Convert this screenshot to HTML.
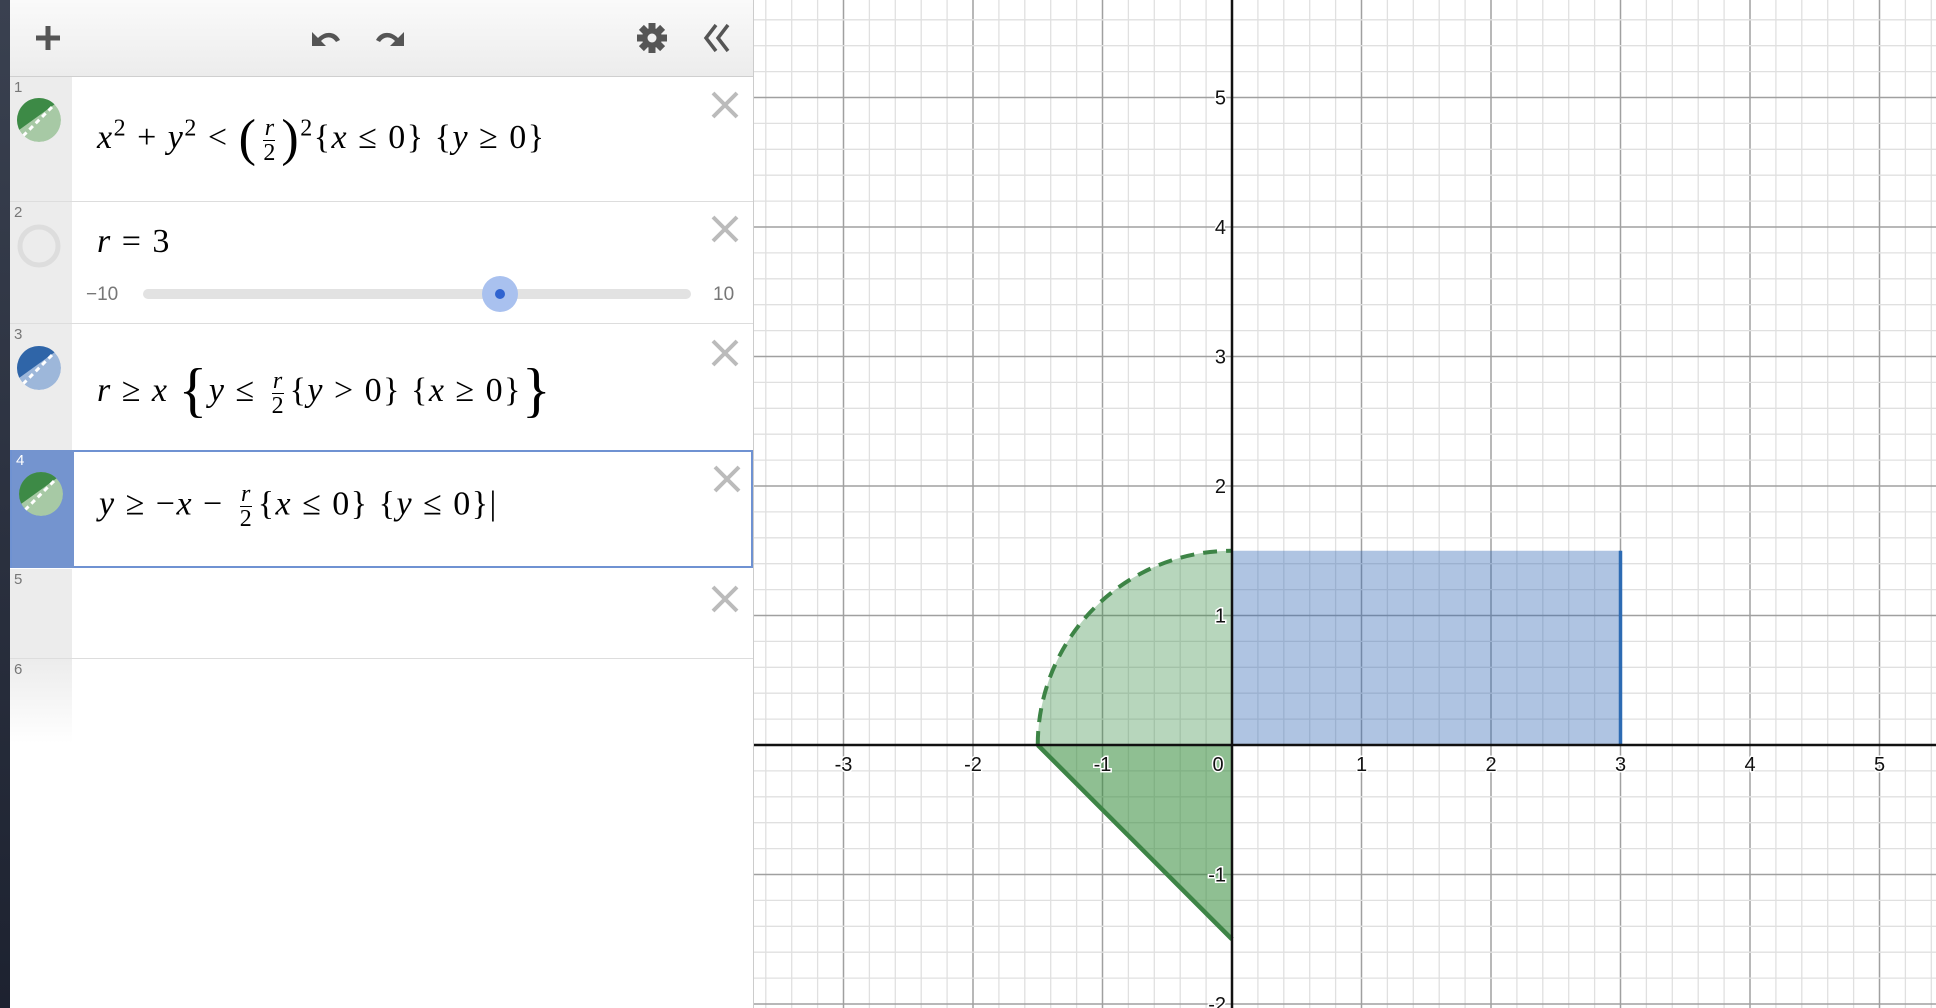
<!DOCTYPE html>
<html><head><meta charset="utf-8">
<style>
html,body{margin:0;padding:0;width:1936px;height:1008px;overflow:hidden;background:#fff;font-family:"Liberation Sans",sans-serif}
#strip{position:absolute;left:0;top:0;width:10px;height:1008px;background:linear-gradient(#3a4150,#1d2230)}
#panel{position:absolute;left:10px;top:0;width:743px;height:1008px;background:#fff;border-right:1px solid #ccc}
#header{position:absolute;left:0;top:0;width:743px;height:76px;background:linear-gradient(#fafafa,#ececec);border-bottom:1px solid #cfcfcf}
.row{position:absolute;left:0;width:743px;border-bottom:1px solid #ddd;background:#fff}
.gut{position:absolute;left:0;top:0;width:62px;height:100%;background:#ececec}
.num{position:absolute;left:4px;top:2px;font-size:15px;color:#777}
.math{position:absolute;left:87px;font-family:"Liberation Serif",serif;font-style:italic;font-size:34px;letter-spacing:1.5px;color:#000;white-space:nowrap}
.math .u{font-style:normal}
.x{position:absolute;left:700px;width:30px;height:30px}
.icon{position:absolute;left:7px;width:44px;height:44px;border-radius:50%}
.frac{display:inline-block;vertical-align:middle;text-align:center;font-size:24px;line-height:24px;margin:0 6px;letter-spacing:0}
.frac span{display:block}
.frac .n{border-bottom:1px solid #000}
</style></head><body>
<div id="strip"></div>
<div id="panel">
  <div id="header">
    <svg style="position:absolute;left:24px;top:24px" width="28" height="28"><path d="M14 2V26M2 14H26" stroke="#555" stroke-width="5"/></svg>
    <svg style="position:absolute;left:296px;top:22px" width="40" height="30"><path d="M6 24 L6 10 L12 16 C20 8 30 10 34 18 L30 20 C26 14 20 14 15 19 L20 24Z" fill="#555"/></svg>
    <svg style="position:absolute;left:360px;top:22px" width="40" height="30"><g transform="translate(40,0) scale(-1,1)"><path d="M6 24 L6 10 L12 16 C20 8 30 10 34 18 L30 20 C26 14 20 14 15 19 L20 24Z" fill="#555"/></g></svg>
    <svg style="position:absolute;left:626px;top:22px" width="32" height="32" viewBox="-16 -16 32 32"><g fill="#555"><circle r="10"/><rect x="-3.5" y="-15" width="7" height="30"/><rect x="-3.5" y="-15" width="7" height="30" transform="rotate(45)"/><rect x="-3.5" y="-15" width="7" height="30" transform="rotate(90)"/><rect x="-3.5" y="-15" width="7" height="30" transform="rotate(135)"/></g><circle r="4.5" fill="#f0f0f0"/></svg>
    <svg style="position:absolute;left:690px;top:22px" width="34" height="32"><path d="M16 3 L6 16 L16 29 M28 3 L18 16 L28 29" fill="none" stroke="#555" stroke-width="3.5"/></svg>
  </div>

  <div class="row" style="top:77px;height:124px">
    <div class="gut"><div class="num">1</div>
      <svg class="icon" style="top:21px" viewBox="0 0 44 44"><circle cx="22" cy="22" r="22" fill="#a7c9a5"/><path d="M2 32 A22 22 0 0 1 38 6 Z" fill="#3d8a46"/><path d="M6 38 L38 6" stroke="#fff" stroke-width="3" stroke-dasharray="5 4"/></svg></div>
    <div class="math" style="top:32px">x<sup class="u" style="font-size:24px">2</sup><span class="u"> + </span>y<sup class="u" style="font-size:24px">2</sup><span class="u"> &lt; </span><span class="u" style="font-size:52px;vertical-align:-7px;font-weight:lighter">(</span><span class="frac"><span class="n">r</span><span class="u">2</span></span><span class="u" style="font-size:52px;vertical-align:-7px">)</span><sup class="u" style="font-size:24px">2</sup><span class="u">{</span>x<span class="u"> ≤ 0} {</span>y<span class="u"> ≥ 0}</span></div>
    <svg class="x" style="top:13px"><path d="M3 3L27 27M27 3L3 27" stroke="#bbb" stroke-width="4"/></svg>
  </div>

  <div class="row" style="top:202px;height:121px">
    <div class="gut"><div class="num">2</div>
      <svg class="icon" style="top:22px" viewBox="0 0 44 44"><circle cx="22" cy="22" r="19" fill="none" stroke="#ddd" stroke-width="5"/></svg></div>
    <div class="math" style="top:21px">r<span class="u"> = 3</span></div>
    <div style="position:absolute;left:76px;top:82px;font-size:19px;color:#777">−10</div>
    <div style="position:absolute;left:703px;top:82px;font-size:19px;color:#777">10</div>
    <div style="position:absolute;left:133px;top:87px;width:548px;height:10px;border-radius:5px;background:#e2e2e2"></div>
    <div style="position:absolute;left:472px;top:74px;width:36px;height:36px;border-radius:50%;background:#a9c1ef"><div style="position:absolute;left:13px;top:13px;width:10px;height:10px;border-radius:50%;background:#2f63d0"></div></div>
    <svg class="x" style="top:12px"><path d="M3 3L27 27M27 3L3 27" stroke="#bbb" stroke-width="4"/></svg>
  </div>

  <div class="row" style="top:324px;height:126px">
    <div class="gut"><div class="num">3</div>
      <svg class="icon" style="top:22px" viewBox="0 0 44 44"><circle cx="22" cy="22" r="22" fill="#9db7da"/><path d="M2 32 A22 22 0 0 1 38 6 Z" fill="#2f65a8"/><path d="M6 38 L38 6" stroke="#fff" stroke-width="3" stroke-dasharray="5 4"/></svg></div>
    <div class="math" style="top:32px">r<span class="u"> ≥ </span>x <span class="u" style="font-size:60px;vertical-align:-9px;font-weight:lighter">{</span>y<span class="u"> ≤ </span><span class="frac"><span class="n">r</span><span class="u">2</span></span><span class="u">{</span>y<span class="u"> &gt; 0} {</span>x<span class="u"> ≥ 0}</span><span class="u" style="font-size:60px;vertical-align:-9px;font-weight:lighter">}</span></div>
    <svg class="x" style="top:14px"><path d="M3 3L27 27M27 3L3 27" stroke="#bbb" stroke-width="4"/></svg>
  </div>

  <div class="row" style="top:450px;height:118px;border:2px solid #6f92d2;box-sizing:border-box">
    <div class="gut" style="background:#7494cf;top:-2px;height:118px"><div class="num" style="color:#fff">4</div>
      <svg class="icon" style="top:22px" viewBox="0 0 44 44"><circle cx="22" cy="22" r="22" fill="#a7c9a5"/><path d="M2 32 A22 22 0 0 1 38 6 Z" fill="#3d8a46"/><path d="M6 38 L38 6" stroke="#fff" stroke-width="3" stroke-dasharray="5 4"/></svg></div>
    <div class="math" style="top:30px">y<span class="u"> ≥ −</span>x<span class="u"> − </span><span class="frac"><span class="n">r</span><span class="u">2</span></span><span class="u">{</span>x<span class="u"> ≤ 0} {</span>y<span class="u"> ≤ 0}|</span></div>
    <svg class="x" style="top:12px"><path d="M3 3L27 27M27 3L3 27" stroke="#bbb" stroke-width="4"/></svg>
  </div>

  <div class="row" style="top:569px;height:89px">
    <div class="gut"><div class="num">5</div></div>
    <svg class="x" style="top:15px"><path d="M3 3L27 27M27 3L3 27" stroke="#bbb" stroke-width="4"/></svg>
  </div>
  <div class="row" style="top:659px;height:84px;border-bottom:none">
    <div class="gut" style="background:linear-gradient(#ececec,#fff)"><div class="num">6</div></div>
  </div>
</div>

<svg id="graph" style="position:absolute;left:754px;top:0" width="1182" height="1008"></svg>

<script>
const rValue = [3];
const xTicks = [-3,-2,-1,0,1,2,3,4,5];
const yTicks = [-2,-1,1,2,3,4,5];
const minorStep = [0.2];

const OX = 1232-754, OY = 745, U = 129.5;
const W = 1182, H = 1008;
const sx = v => OX + v*U;
const sy = v => OY - v*U;
const NS = 'http://www.w3.org/2000/svg';
const svg = document.getElementById('graph');
function mk(tag, attrs, parent){ const e=document.createElementNS(NS,tag); for(const k in attrs) e.setAttribute(k,attrs[k]); (parent||svg).appendChild(e); return e; }

const gGrid = mk('g',{});


const xmin=-OX/U, xmax=(W-OX)/U, ymin=(OY-H)/U, ymax=OY/U;
const st=minorStep[0];
for(let i=Math.ceil(xmin/st); i*st<=xmax; i++){
  const major = i%5===0;
  mk('line',{x1:sx(i*st),x2:sx(i*st),y1:0,y2:H,stroke:major?'#a0a0a0':'#e0e0e0','stroke-width':major?1.5:1.3},gGrid);
}
for(let i=Math.ceil(ymin/st); i*st<=ymax; i++){
  const major = i%5===0;
  mk('line',{y1:sy(i*st),y2:sy(i*st),x1:0,x2:W,stroke:major?'#a0a0a0':'#e0e0e0','stroke-width':major?1.5:1.3},gGrid);
}

const r = rValue[0], h = r/2;
const rect = mk('rect',{x:sx(0),y:sy(h),width:sx(r)-sx(0),height:sy(0)-sy(h),fill:'rgba(45,100,180,0.38)'});


const rEdge = mk('line',{x1:sx(r),x2:sx(r),y1:sy(h),y2:sy(0),stroke:'#2d6bb3','stroke-width':3.5});



const disc = mk('path',{d:`M${sx(0)} ${sy(0)} L${sx(-h)} ${sy(0)} A${h*U} ${h*U} 0 0 1 ${sx(0)} ${sy(h)} Z`,fill:'rgba(56,140,70,0.36)'});


const arc = mk('path',{d:`M${sx(-h)} ${sy(0)} A${h*U} ${h*U} 0 0 1 ${sx(0)} ${sy(h)}`,fill:'none',stroke:'#3d8446','stroke-width':4,'stroke-dasharray':'14 9'});



const tri = mk('path',{d:`M${sx(-h)} ${sy(0)} L${sx(0)} ${sy(0)} L${sx(0)} ${sy(-h)} Z`,fill:'rgba(56,140,60,0.56)'});


const triEdge = mk('line',{x1:sx(-h),y1:sy(0),x2:sx(0),y2:sy(-h),stroke:'#3d8446','stroke-width':4.5});



const xAxis = mk('line',{x1:0,x2:W,y1:sy(0),y2:sy(0),stroke:'#111','stroke-width':2.5});


const yAxis = mk('line',{x1:sx(0),x2:sx(0),y1:0,y2:H,stroke:'#111','stroke-width':2.5});



xTicks.forEach(v=>{
  const t = mk('text',{x:sx(v)-(v===0?14:0),y:sy(0)+26,'text-anchor':'middle','font-size':20,'font-family':'Liberation Sans, sans-serif',fill:'#111',stroke:'#fff','stroke-width':3,'paint-order':'stroke'});
  t.textContent = v;
  
  
});
yTicks.forEach(v=>{
  const t = mk('text',{x:sx(0)-6,y:sy(v)+7,'text-anchor':'end','font-size':20,'font-family':'Liberation Sans, sans-serif',fill:'#111',stroke:'#fff','stroke-width':3,'paint-order':'stroke'});
  t.textContent = v;
  
  
});
</script>
</body></html>
